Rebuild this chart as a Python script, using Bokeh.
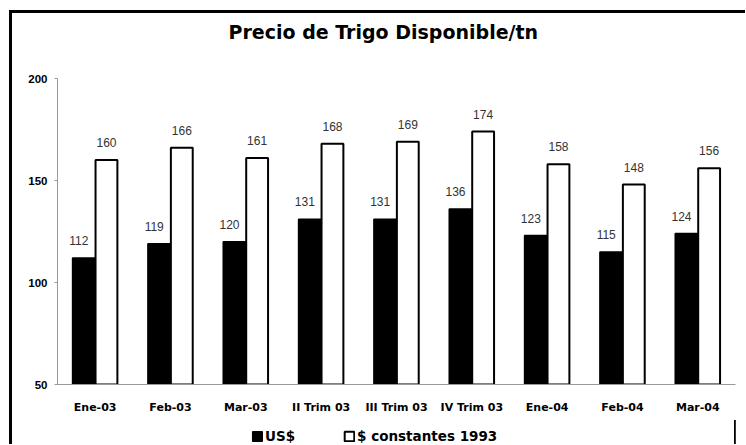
from bokeh.plotting import figure
from bokeh.layouts import column
from bokeh.models import ColumnDataSource, Legend, LegendItem, FactorRange, LabelSet, Title
from bokeh.transform import dodge
from bokeh.core.properties import value
from bokeh.embed import file_html
from bokeh.resources import INLINE

categories = ["Ene-03", "Feb-03", "Mar-03", "II Trim 03", "III Trim 03",
              "IV Trim 03", "Ene-04", "Feb-04", "Mar-04"]
usd = [112, 119, 120, 131, 131, 136, 123, 115, 124]
constantes = [160, 166, 161, 168, 169, 174, 158, 148, 156]
y_ticks = [50, 100, 150, 200]
series_names = ["US$", "$ constantes 1993"]

FONT = "Liberation Sans"
WIDE = "DejaVu Sans"

src = ColumnDataSource(dict(
    cat=categories, usd=usd, cons=constantes,
    usd_lbl=[str(v) for v in usd], cons_lbl=[str(v) for v in constantes],
))

p = figure(
    x_range=FactorRange(factors=categories), y_range=(50, 200),
    frame_width=678, frame_height=306, output_backend="svg", toolbar_location=None,
    min_border_left=45, min_border_right=10, min_border_top=65, min_border_bottom=36,
    title="Precio de Trigo Disponible/tn",
)
p.title.text_font = WIDE
p.title.text_font_size = "19px"
p.title.text_font_style = "bold"
p.title.text_color = "black"
p.title.align = "left"
p.title.offset = 171
p.title.standoff = 10
p.add_layout(Title(text=" ", text_font_size="1px", standoff=28), "above")

r1 = p.vbar(x=dodge("cat", -0.15, range=p.x_range), top="usd", width=0.3, bottom=0,
            source=src, fill_color="black", line_color="black", line_width=1.5)
r2 = p.vbar(x=dodge("cat", 0.15, range=p.x_range), top="cons", width=0.29, bottom=0,
            source=src, fill_color="white", line_color="black", line_width=2)

for field, lbl, dx, xo in [("usd", "usd_lbl", -0.15, -5), ("cons", "cons_lbl", 0.15, 0)]:
    p.add_layout(LabelSet(x=dodge("cat", dx, range=p.x_range), y=field, text=lbl, source=src,
                          x_offset=xo, y_offset=13, text_align="center", text_baseline="bottom",
                          text_font=value(FONT), text_font_size="12px", text_color="#333333"))

p.xgrid.grid_line_color = None
p.ygrid.grid_line_color = None
p.outline_line_color = None

p.yaxis.ticker = y_ticks
p.yaxis.minor_tick_line_color = None
p.yaxis.major_tick_out = 3
p.yaxis.major_tick_in = 0
p.yaxis.axis_line_color = "#999999"
p.yaxis.major_tick_line_color = "#999999"
p.yaxis.major_label_standoff = 7
p.yaxis.major_label_text_font = FONT
p.yaxis.major_label_text_font_style = "bold"
p.yaxis.major_label_text_font_size = "11.5px"
p.yaxis.major_label_text_color = "black"

p.xaxis.major_tick_out = 0
p.xaxis.major_tick_in = 0
p.xaxis.axis_line_color = "#999999"
p.xaxis.major_label_standoff = 16
p.xaxis.major_label_text_font = WIDE
p.xaxis.major_label_text_font_style = "bold"
p.xaxis.major_label_text_font_size = "11px"
p.xaxis.major_label_text_color = "black"

# legend strip below the chart (its key renderers sit outside the strip's visible range)
leg = figure(width=733, height=24, x_range=(0, 1), y_range=(0, 1), output_backend="svg",
             toolbar_location=None, min_border=0)
leg.axis.visible = False
leg.xgrid.grid_line_color = None
leg.ygrid.grid_line_color = None
leg.outline_line_color = None
k1 = leg.vbar(x="usd", top="usd", width=0.1, source=src,
              fill_color="black", line_color="black", line_width=1.5)
k2 = leg.vbar(x="cons", top="cons", width=0.1, source=src,
              fill_color="white", line_color="black", line_width=2)
legend = Legend(
    items=[LegendItem(label=series_names[0], renderers=[k1]),
           LegendItem(label=series_names[1], renderers=[k2])],
    orientation="horizontal", location=(194, 0),
    glyph_width=12, glyph_height=12, label_standoff=2, spacing=48,
    padding=0, margin=0, border_line_color=None, background_fill_alpha=0,
    label_text_font=WIDE, label_text_font_size="13.5px", label_text_font_style="bold",
    label_text_color="black",
)
leg.add_layout(legend, "center")

layout = column(p, leg, spacing=0,
                styles={"margin-left": "9px", "margin-top": "10px",
                        "border-left": "3px solid black", "border-top": "3px solid black"})

open("out.html", "w").write(file_html(layout, INLINE))
